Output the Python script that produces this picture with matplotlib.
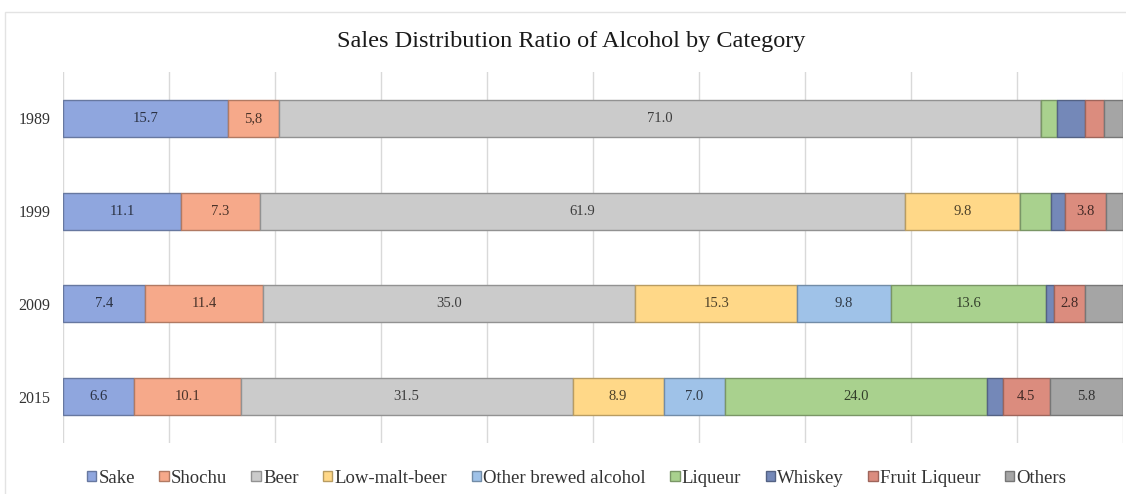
import numpy as np
import matplotlib
matplotlib.use("Agg")
import matplotlib.pyplot as plt
from matplotlib.colors import to_rgb
from matplotlib.patches import Rectangle

plt.rcParams['font.family'] = ['Liberation Serif', 'DejaVu Serif']

years = ["1989", "1999", "2009", "2015"]
categories = ["Sake", "Shochu", "Beer", "Low-malt-beer", "Other brewed alcohol",
              "Liqueur", "Whiskey", "Fruit Liqueur", "Others"]

# shares per year, one list per category
sake = [15.6, 11.2, 7.8, 6.7]
shochu = [4.8, 7.4, 11.1, 10.1]
beer = [71.9, 60.9, 35.1, 31.3]
low_malt = [0.0, 10.8, 15.3, 8.6]
other_brewed = [0.0, 0.0, 8.8, 5.8]
liqueur = [1.5, 2.9, 14.7, 24.7]
whiskey = [2.6, 1.4, 0.7, 1.5]
fruit = [1.8, 3.8, 2.9, 4.4]
others = [1.8, 1.6, 3.6, 6.9]

# data labels as printed on the chart
sake_lbl = ["15.7", "11.1", "7.4", "6.6"]
shochu_lbl = ["5,8", "7.3", "11.4", "10.1"]
beer_lbl = ["71.0", "61.9", "35.0", "31.5"]
low_malt_lbl = ["", "9.8", "15.3", "8.9"]
other_brewed_lbl = ["", "", "9.8", "7.0"]
liqueur_lbl = ["", "", "13.6", "24.0"]
whiskey_lbl = ["", "", "", ""]
fruit_lbl = ["", "3.8", "2.8", "4.5"]
others_lbl = ["", "", "", "5.8"]

series = [sake, shochu, beer, low_malt, other_brewed, liqueur, whiskey, fruit, others]
labels = [sake_lbl, shochu_lbl, beer_lbl, low_malt_lbl, other_brewed_lbl,
          liqueur_lbl, whiskey_lbl, fruit_lbl, others_lbl]

colors = ["#8FA6DE", "#F6A98A", "#CBCBCB", "#FFD888", "#9FC2E8",
          "#A9D18E", "#7488B8", "#DB8C7E", "#A5A5A5"]


def darker(c, f):
    r, g, b = to_rgb(c)
    return (r * f, g * f, b * f)


fig = plt.figure(figsize=(11.26, 4.94), dpi=100)
fig.patches.append(Rectangle((5 / 1126, -0.1), 1.2, 1.1 - 12 / 494,
                             transform=fig.transFigure, fill=False,
                             edgecolor="#E3E3E3", linewidth=1.0))
ax = fig.add_axes([62.7 / 1126, 1 - 443 / 494, 1060 / 1126, 371 / 494])

y = np.arange(len(years))
left = np.zeros(len(years))
for vals, lbls, col, name in zip(series, labels, colors, categories):
    vals = np.array(vals)
    ax.barh(y, vals, left=left, height=0.4, color=col,
            edgecolor=darker(col, 0.72), linewidth=1.0, label=name, zorder=3)
    for i, t in enumerate(lbls):
        if t:
            ax.text(left[i] + vals[i] / 2, y[i], t, ha="center", va="center",
                    fontsize=10.5, color=darker(col, 0.3), zorder=4)
    left += vals

ax.set_xlim(0, 100)
ax.set_ylim(3.5, -0.5)
ax.set_xticks(np.arange(0, 101, 10))
ax.set_xticklabels([])
ax.tick_params(axis="x", length=0)
ax.tick_params(axis="y", length=0, pad=9, labelsize=11.5, labelcolor="#333333")
ax.set_yticks(y)
ax.set_yticklabels(years)
ax.grid(axis="x", color="#D9D9D9", linewidth=1.0, zorder=0)
for s in ax.spines.values():
    s.set_visible(False)

fig.text(0.507, 1 - 42 / 494, "Sales Distribution Ratio of Alcohol by Category",
         ha="center", va="center", fontsize=17.5, color="#1A1A1A")

handles, names = ax.get_legend_handles_labels()
fig.legend(handles, names, loc="center", bbox_to_anchor=(0.512, 1 - 478 / 494),
           ncol=9, frameon=False, fontsize=13.5, handlelength=0.5,
           handleheight=0.5, handletextpad=0.12, columnspacing=1.3,
           labelcolor="#333333")

fig.savefig("out.png", dpi=100)
